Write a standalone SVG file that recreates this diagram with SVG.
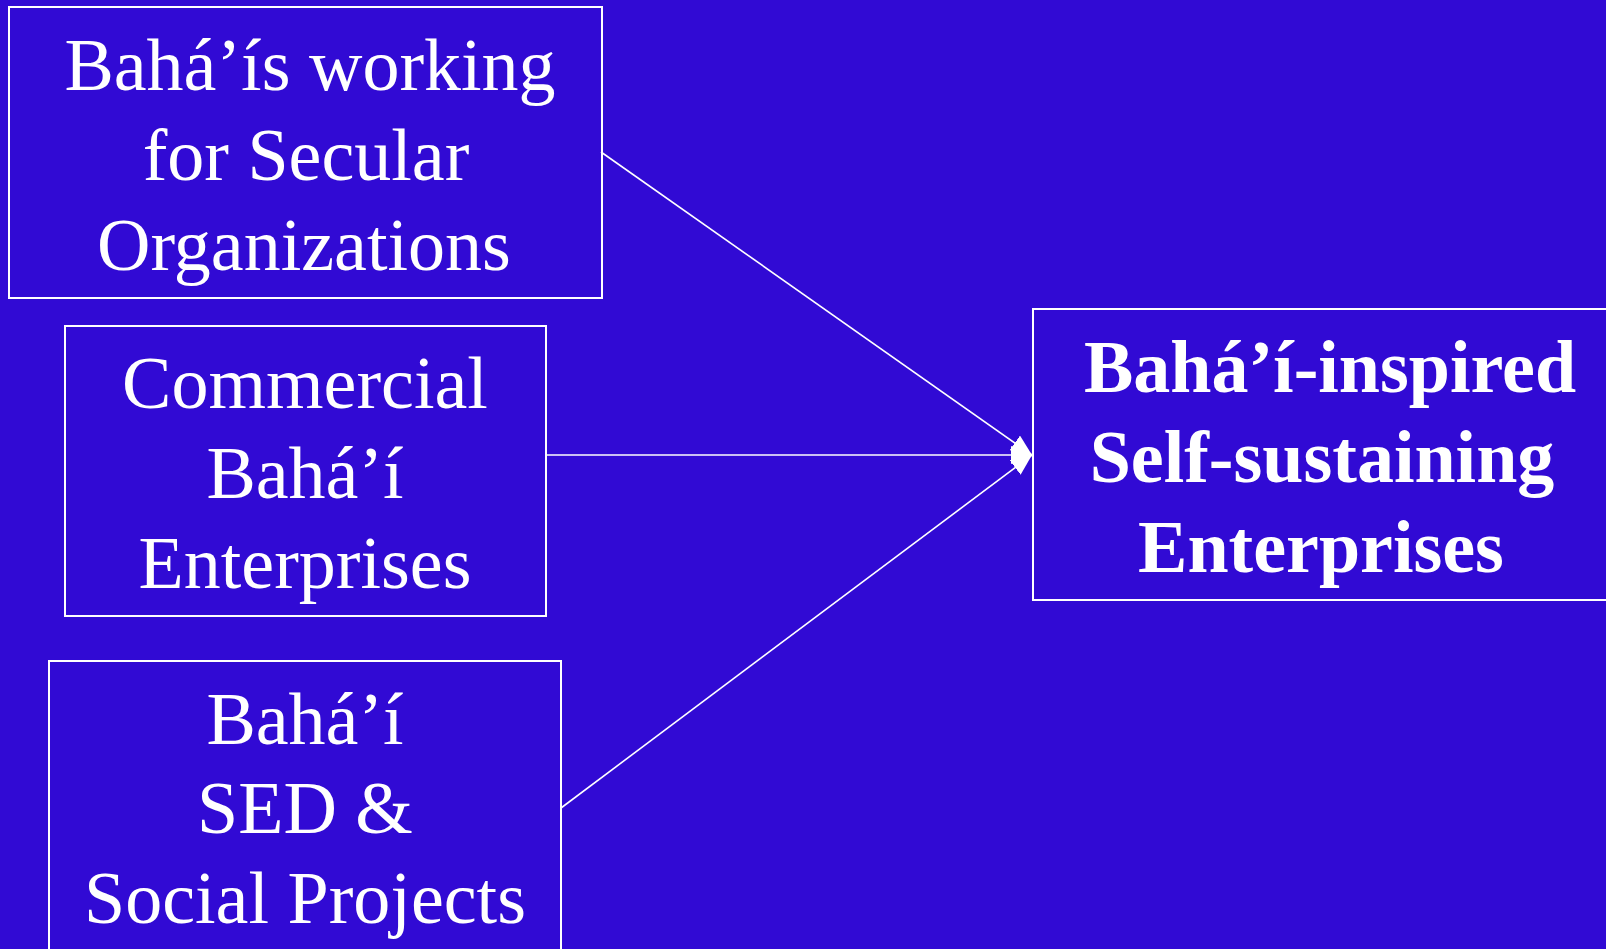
<svg xmlns="http://www.w3.org/2000/svg" width="1606" height="949" viewBox="0 0 1606 949">
<style>
.box{fill:none;stroke:#ffffff;stroke-width:2}
.t{font-family:"Liberation Serif","Times New Roman",serif;font-size:74px;fill:#ffffff;text-anchor:middle}
.b{font-weight:bold}
.c{stroke:#ffffff;stroke-width:1.6;fill:none}
</style>
<defs>
<marker id="ah" markerUnits="userSpaceOnUse" markerWidth="22" markerHeight="18" refX="21" refY="9" orient="auto">
<path d="M0,0 L21,9 L0,18 Z" fill="#ffffff"/>
</marker>
</defs>
<rect width="1606" height="949" fill="#310AD4"/>
<g id="connectors">
<line class="c" x1="601" y1="152" x2="1032" y2="455" marker-end="url(#ah)"/>
<line class="c" x1="546" y1="455" x2="1032" y2="455" marker-end="url(#ah)"/>
<line class="c" x1="561" y1="808" x2="1032" y2="455" marker-end="url(#ah)"/>
</g>
<g id="secular">
<rect class="box" x="9" y="7" width="593" height="291"/>
<text class="t" x="310" y="90">Bahá’ís working</text>
<text class="t" x="306" y="180">for Secular</text>
<text class="t" x="304" y="270">Organizations</text>
</g>
<g id="commercial">
<rect class="box" x="65" y="326" width="481" height="290"/>
<text class="t" x="305" y="408">Commercial</text>
<text class="t" x="305" y="498">Bahá’í</text>
<text class="t" x="305" y="588">Enterprises</text>
</g>
<g id="sed">
<rect class="box" x="49" y="661" width="512" height="320"/>
<text class="t" x="305" y="744">Bahá’í</text>
<text class="t" x="305" y="833">SED &amp;</text>
<text class="t" x="305" y="923">Social Projects</text>
</g>
<g id="inspired">
<rect class="box" x="1033" y="309" width="600" height="291"/>
<text class="t b" x="1330" y="392">Bahá’í-inspired</text>
<text class="t b" x="1322" y="482">Self-sustaining</text>
<text class="t b" x="1321" y="572">Enterprises</text>
</g>
</svg>
